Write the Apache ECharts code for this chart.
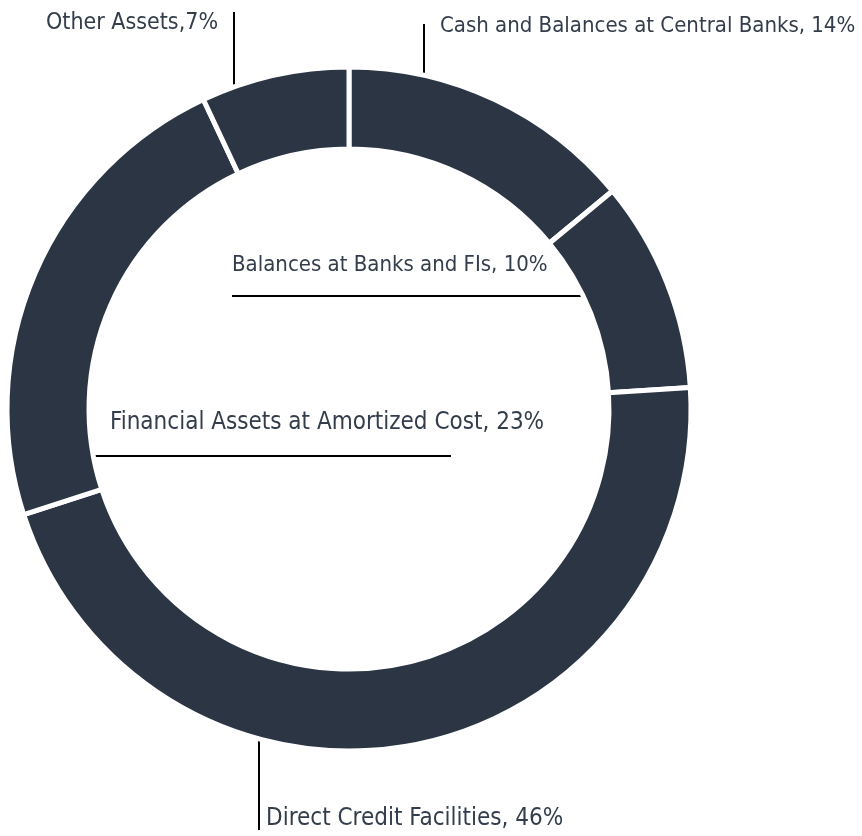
<!DOCTYPE html>
<html>
<head>
<meta charset="utf-8">
<script src="https://cdn.jsdelivr.net/npm/echarts@6/dist/echarts.min.js"></script>
<style>
  html, body { margin: 0; padding: 0; background: #fff; }
  #chart { width: 862px; height: 836px; }
</style>
</head>
<body>
<div id="chart"></div>
<script>
// 资产构成（环形图）
const categories = [
  'Cash and Balances at Central Banks',
  'Balances at Banks and FIs',
  'Direct Credit Facilities',
  'Financial Assets at Amortized Cost',
  'Other Assets'
]
const shares = [14, 10, 46, 23, 7]
// 标签文字，原图中写法不统一
const labelTexts = [
  'Cash and Balances at Central Banks, 14%',
  'Balances at Banks and FIs, 10%',
  'Direct Credit Facilities, 46%',
  'Financial Assets at Amortized Cost, 23%',
  'Other Assets,7%'
]
// 各标签字号（原图文字宽度不同）
const labelSizes = [22, 22, 24, 24, 23]

// 标签位置与引导线（像素）
const labelPlaces = [
  { x: 440, y: 26, line: [[424, 24], [424, 75]] },
  { x: 232, y: 265, line: [[232, 296], [582, 296]] },
  { x: 266, y: 819, line: [[259, 723], [259, 830]] },
  { x: 110, y: 423, line: [[92, 456], [451, 456]] },
  { x: 46, y: 23, line: [[234, 12], [234, 99]] }
]

const chart = echarts.init(document.getElementById('chart'))
chart.setOption({
  animation: false,
  series: [
    {
      type: 'pie',
      center: [349, 409],
      radius: [260, 342],
      startAngle: 90,
      clockwise: true,
      data: categories.map((name, i) => ({
        name,
        value: shares[i],
        label: { fontSize: labelSizes[i] }
      })),
      itemStyle: {
        color: '#2b3544',
        borderColor: '#fff',
        borderWidth: 5
      },
      label: {
        show: true,
        formatter: (p) => labelTexts[p.dataIndex],
        color: '#333d4b',
        fontFamily: '"DejaVu Sans Condensed", sans-serif',
        overflow: 'none'
      },
      labelLine: {
        show: true,
        lineStyle: { color: '#000', width: 2 }
      },
      labelLayout: (params) => {
        const p = labelPlaces[params.dataIndex]
        return {
          x: p.x,
          y: p.y,
          align: 'left',
          verticalAlign: 'middle',
          hideOverlap: false,
          labelLinePoints: [p.line[0], p.line[1], p.line[1]]
        }
      }
    }
  ]
})
</script>
</body>
</html>
